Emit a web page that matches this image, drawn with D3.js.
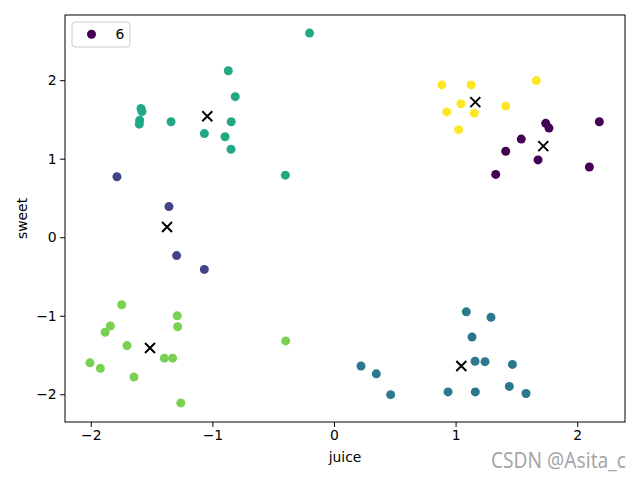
<!DOCTYPE html>
<html>
<head>
<meta charset="utf-8">
<script src="https://cdn.jsdelivr.net/npm/d3@7"></script>
<style>
  body { margin: 0; background: #fff; }
  svg { font-family: "DejaVu Sans", sans-serif; }
</style>
</head>
<body>
<div id="chart"></div>
<script>
// points, grouped by cluster label
var juice = [
  // 0 purple
  1.741, 1.768, 2.182, 1.540, 1.412, 1.678, 2.100, 1.330,
  // 1 dark blue
  -1.785, -1.357, -1.294, -1.066,
  // 2 teal blue
  0.222, 0.348, 0.466, 1.088, 1.291, 1.135, 1.160, 1.242, 1.467, 1.442, 0.938, 1.162, 1.579,
  // 3 green teal
  -0.201, -0.869, -0.812, -1.587, -1.579, -1.598, -1.601, -1.340, -0.845, -1.066, -0.896, -0.847, -0.400,
  // 4 light green
  -1.746, -1.289, -1.839, -1.286, -1.882, -1.702, -1.395, -1.327, -0.397, -2.007, -1.921, -1.645, -1.260,
  // 5 yellow
  0.886, 1.127, 1.664, 1.044, 1.412, 0.927, 1.154, 1.025
];
var sweet = [
  1.45, 1.39, 1.47, 1.25, 1.095, 0.985, 0.895, 0.80,
  0.77, 0.39, -0.234, -0.41,
  -1.64, -1.74, -2.005, -0.95, -1.02, -1.27, -1.58, -1.585, -1.62, -1.90, -1.97, -1.97, -1.99,
  2.60, 2.12, 1.79, 1.64, 1.60, 1.49, 1.44, 1.47, 1.47, 1.32, 1.28, 1.12, 0.79,
  -0.86, -1.00, -1.13, -1.14, -1.21, -1.38, -1.54, -1.54, -1.32, -1.60, -1.67, -1.78, -2.11,
  1.94, 1.94, 1.995, 1.70, 1.67, 1.596, 1.58, 1.37
];
var label = [
  0, 0, 0, 0, 0, 0, 0, 0,
  1, 1, 1, 1,
  2, 2, 2, 2, 2, 2, 2, 2, 2, 2, 2, 2, 2,
  3, 3, 3, 3, 3, 3, 3, 3, 3, 3, 3, 3, 3,
  4, 4, 4, 4, 4, 4, 4, 4, 4, 4, 4, 4, 4,
  5, 5, 5, 5, 5, 5, 5, 5
];

// cluster centres (black x)
var centerJuice = [1.721, -1.373, 1.047, -1.042, -1.513, 1.162];
var centerSweet = [1.16, 0.13, -1.64, 1.54, -1.41, 1.72];

var xTicks = [-2, -1, 0, 1, 2];
var yTicks = [-2, -1, 0, 1, 2];
var legendLabel = "6";

var width = 640, height = 480;
var margin = {left: 65, right: 15, top: 15, bottom: 58};

var svg = d3.select("#chart").append("svg")
    .attr("width", width)
    .attr("height", height);

var x = d3.scaleLinear()
    .domain([-2.212, 2.393])
    .range([margin.left, width - margin.right]);
var y = d3.scaleLinear()
    .domain([-2.353, 2.83])
    .range([height - margin.bottom, margin.top]);

var color = d3.scaleSequential(d3.interpolateViridis).domain([0, 5]);

var fmt = function(d) { return d < 0 ? "\u2212" + Math.abs(d) : d; };

// points
var pts = d3.range(juice.length);
svg.append("g").selectAll("circle")
    .data(pts)
    .join("circle")
    .attr("cx", function(i) { return x(juice[i]); })
    .attr("cy", function(i) { return y(sweet[i]); })
    .attr("r", 4.5)
    .attr("fill", function(i) { return color(label[i]); });

// centres
var s = 5;
var cg = svg.append("g").selectAll("g")
    .data(d3.range(centerJuice.length))
    .join("g")
    .attr("transform", function(i) { return "translate(" + x(centerJuice[i]) + "," + y(centerSweet[i]) + ")"; });
cg.append("path")
    .attr("d", "M" + (-s) + "," + (-s) + "L" + s + "," + s + "M" + (-s) + "," + s + "L" + s + "," + (-s))
    .attr("stroke", "#000")
    .attr("stroke-width", 2)
    .attr("fill", "none");

// axes
var xAxis = svg.append("g")
    .attr("transform", "translate(0," + (height - margin.bottom) + ")")
    .call(d3.axisBottom(x).tickValues(xTicks).tickFormat(fmt).tickSize(4.9).tickPadding(3.5));
var yAxis = svg.append("g")
    .attr("transform", "translate(" + margin.left + ",0)")
    .call(d3.axisLeft(y).tickValues(yTicks).tickFormat(fmt).tickSize(4.9).tickPadding(3.5));

[xAxis, yAxis].forEach(function(a) {
  a.select(".domain").remove();
  a.selectAll("text").attr("font-size", 13.9).attr("font-family", "DejaVu Sans").attr("fill", "#000");
  a.selectAll("line").attr("stroke", "#000").attr("stroke-width", 1);
});

// frame
svg.append("rect")
    .attr("x", margin.left)
    .attr("y", margin.top)
    .attr("width", width - margin.left - margin.right)
    .attr("height", height - margin.top - margin.bottom)
    .attr("fill", "none")
    .attr("stroke", "#000")
    .attr("stroke-width", 1);

// labels
svg.append("text")
    .attr("x", (margin.left + width - margin.right) / 2)
    .attr("y", 462)
    .attr("text-anchor", "middle")
    .attr("font-size", 13.9)
    .text("juice");
svg.append("text")
    .attr("transform", "translate(27," + ((margin.top + height - margin.bottom) / 2) + ") rotate(-90)")
    .attr("text-anchor", "middle")
    .attr("font-size", 13.9)
    .text("sweet");

// legend
var lg = svg.append("g").attr("transform", "translate(72,22)");
lg.append("rect")
    .attr("width", 58)
    .attr("height", 25)
    .attr("rx", 3)
    .attr("fill", "#fff")
    .attr("fill-opacity", 0.8)
    .attr("stroke", "#ccc");
lg.append("circle")
    .attr("cx", 19.5)
    .attr("cy", 12.3)
    .attr("r", 4.5)
    .attr("fill", color(0));
lg.append("text")
    .attr("x", 43.5)
    .attr("y", 16.8)
    .attr("font-size", 13.9)
    .text(legendLabel);

// watermark
svg.append("text")
    .attr("x", 491)
    .attr("y", 468)
    .attr("font-family", "Noto Sans")
    .attr("font-size", 21)
    .attr("textLength", 135)
    .attr("lengthAdjust", "spacingAndGlyphs")
    .attr("fill", "#a6a6a6")
    .text("CSDN @Asita_c");
</script>
</body>
</html>
